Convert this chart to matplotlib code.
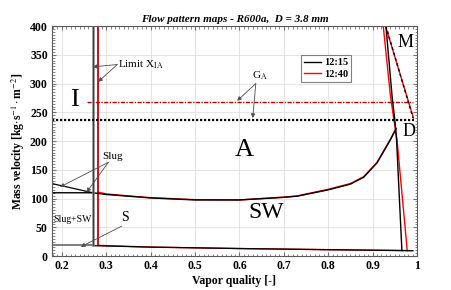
import matplotlib
matplotlib.use('Agg')

from matplotlib import pyplot as plt
from matplotlib.ticker import MultipleLocator
import numpy as np

plt.rcParams['font.family'] = ['Liberation Serif', 'DejaVu Serif']
plt.rcParams['mathtext.fontset'] = 'stix'

# Curvas do mapa - 12:15 (preto)
x_sw_a = [0.178, 0.27, 0.30, 0.35, 0.40, 0.50, 0.60, 0.70, 0.73, 0.80, 0.85, 0.88, 0.91, 0.94, 0.953]
g_sw_a = [110, 110, 107, 104, 101, 97.5, 97.5, 102, 104, 115, 125, 137, 162, 202, 222]
x_slug_a = [0.178, 0.27]
g_slug_a = [126, 110]
x_s_a = [0.178, 0.27, 0.27, 0.40, 0.60, 0.80, 0.991]
g_s_a = [19, 19, 18, 15.5, 13, 11, 9.3]
x_ia_a = [0.27, 0.27]
g_ia_a = [19, 400]
x_d_a = [0.930, 0.944, 0.950, 0.954, 0.966]
g_d_a = [400, 277, 237, 202, 9.5]
x_m_a = [0.930, 0.991]
g_m_a = [400, 240]
x_ga_a = [0.178, 0.993]
g_ga_a = [236.5, 236.5]

# Curvas do mapa - 12:40 (vermelho)
x_sw_b = [0.282, 0.30, 0.35, 0.40, 0.50, 0.60, 0.70, 0.73, 0.80, 0.85, 0.88, 0.91, 0.94, 0.952]
g_sw_b = [111, 108, 104.5, 101.5, 98, 97.5, 102.5, 104.5, 116, 126, 138, 163, 203, 220]
x_s_b = [0.282, 0.40, 0.60, 0.80, 0.99]
g_s_b = [18.5, 15.5, 13, 11, 9.3]
x_ia_b = [0.282, 0.282]
g_ia_b = [18.5, 400]
x_d_b = [0.924, 0.940, 0.948, 0.955, 0.978]
g_d_b = [400, 280, 237, 202, 9.5]
x_m_b = [0.929, 0.992]
g_m_b = [400, 240]
x_ga_b = [0.256, 0.99]
g_ga_b = [268, 268]

fig = plt.figure(figsize=(4.51, 2.90), dpi=100)
ax = fig.add_axes([0.1153, 0.1172, 0.8093, 0.7931])

# 12:40
ax.plot(x_sw_b, g_sw_b, color='red', lw=1)
ax.plot(x_s_b, g_s_b, color='red', lw=1)
ax.plot(x_ia_b, g_ia_b, color='#cc0000', lw=1.3)
ax.plot(x_d_b, g_d_b, color='red', lw=1)
ax.plot(x_m_b, g_m_b, color='red', lw=1)
ax.plot(x_ga_b, g_ga_b, color='#cc0000', lw=1, linestyle=(0, (3, 1, 1, 1)))

# 12:15
ax.plot(x_sw_a, g_sw_a, color='black', lw=1)
ax.plot(x_slug_a, g_slug_a, color='black', lw=0.9)
ax.plot(x_s_a, g_s_a, color='black', lw=0.9)
ax.plot(x_s_a[:2], g_s_a[:2], color='0.5', lw=1.5)
ax.plot(x_ia_a, g_ia_a, color='0.5', lw=1.8)
ax.plot(x_ia_a, g_ia_a, color='0.2', lw=0.6)
ax.plot(x_d_a, g_d_a, color='black', lw=1)
ax.plot(x_m_a, g_m_a, color='black', lw=1, linestyle=(0, (2, 2)))
ax.plot(x_ga_a, g_ga_a, color='black', lw=1.6, linestyle=(0, (1, 0.8)))

# Legenda
ax.plot([], [], color='black', lw=1, label='12:15')
ax.plot([], [], color='red', lw=1, label='12:40')
leg = ax.legend(loc='upper left', bbox_to_anchor=(0.683, 0.875), fancybox=False,
                prop={'weight': 'bold', 'size': 7.5}, handlelength=1.6,
                borderpad=0.3, labelspacing=0.25, handletextpad=0.3,
                borderaxespad=0.0, framealpha=1)
leg.get_frame().set_edgecolor('0.5')
leg.get_frame().set_linewidth(0.8)

# Anotações
seta = dict(arrowstyle='-|>', color='0.3', lw=0.6, mutation_scale=6, shrinkA=0, shrinkB=0)
ax.annotate('', xy=(0.27, 329), xytext=(0.325, 333), arrowprops=seta)
ax.annotate('', xy=(0.282, 303), xytext=(0.325, 333), arrowprops=seta)
ax.text(0.326, 333, 'Limit X$_{\\mathrm{IA}}$', fontsize=8, va='center')
ax.annotate('', xy=(0.595, 270), xytext=(0.637, 300), arrowprops=seta)
ax.annotate('', xy=(0.630, 240), xytext=(0.637, 300), arrowprops=seta)
ax.text(0.628, 302, 'G$_{\\mathrm{A}}$', fontsize=8, va='bottom')
ax.annotate('', xy=(0.196, 120), xytext=(0.305, 163), arrowprops=seta)
ax.annotate('', xy=(0.256, 111), xytext=(0.305, 163), arrowprops=seta)
ax.text(0.315, 166, 'Slug', fontsize=8, ha='center', va='bottom')
ax.annotate('', xy=(0.243, 16), xytext=(0.335, 52), arrowprops=seta)
ax.text(0.342, 55, 'S', fontsize=10, ha='center', va='bottom')
ax.text(0.181, 64, 'Slug+SW', fontsize=7, va='center')
ax.text(0.229, 271, 'I', fontsize=19, ha='center', va='center')
ax.text(0.611, 184, 'A', fontsize=19, ha='center', va='center')
ax.text(0.661, 75, 'SW', fontsize=17, ha='center', va='center')
ax.text(0.975, 372, 'M', fontsize=13, ha='center', va='center')
ax.text(0.982, 216, 'D', fontsize=13, ha='center', va='center')

# Eixos
ax.set_xlim(0.178, 1.0)
ax.set_ylim(0, 400)
ax.xaxis.set_major_locator(MultipleLocator(0.1))
ax.xaxis.set_minor_locator(MultipleLocator(0.01))
ax.yaxis.set_major_locator(MultipleLocator(50))
ax.yaxis.set_minor_locator(MultipleLocator(5))
ax.set_xticks([0.2, 0.3, 0.4, 0.5, 0.6, 0.7, 0.8, 0.9, 1.0])
ax.set_xticklabels(['0.2', '0.3', '0.4', '0.5', '0.6', '0.7', '0.8', '0.9', '1'])
ax.tick_params(which='both', direction='in', top=True, right=True, color='0.45',
               labelsize=8.5, pad=3)
ax.tick_params(which='major', length=3)
ax.tick_params(which='minor', length=1.8)
for lab in ax.get_xticklabels() + ax.get_yticklabels():
    lab.set_fontweight('bold')
for s in ax.spines.values():
    s.set_color('0.35')
    s.set_linewidth(0.8)
ax.grid(True, color='0.88', lw=0.6)
ax.set_axisbelow(True)

ax.set_title('Flow pattern maps - R600a,  D = 3.8 mm', fontsize=8, fontweight='bold',
             style='italic', pad=3)
ax.set_xlabel('Vapor quality [-]', fontsize=8.5, fontweight='bold', labelpad=2)
ax.set_ylabel('Mass velocity [kg$\\cdot$s$^{-1}\\cdot$m$^{-2}$]', fontsize=8.5,
              fontweight='bold', labelpad=2)

fig.savefig('out.png', dpi=100)
